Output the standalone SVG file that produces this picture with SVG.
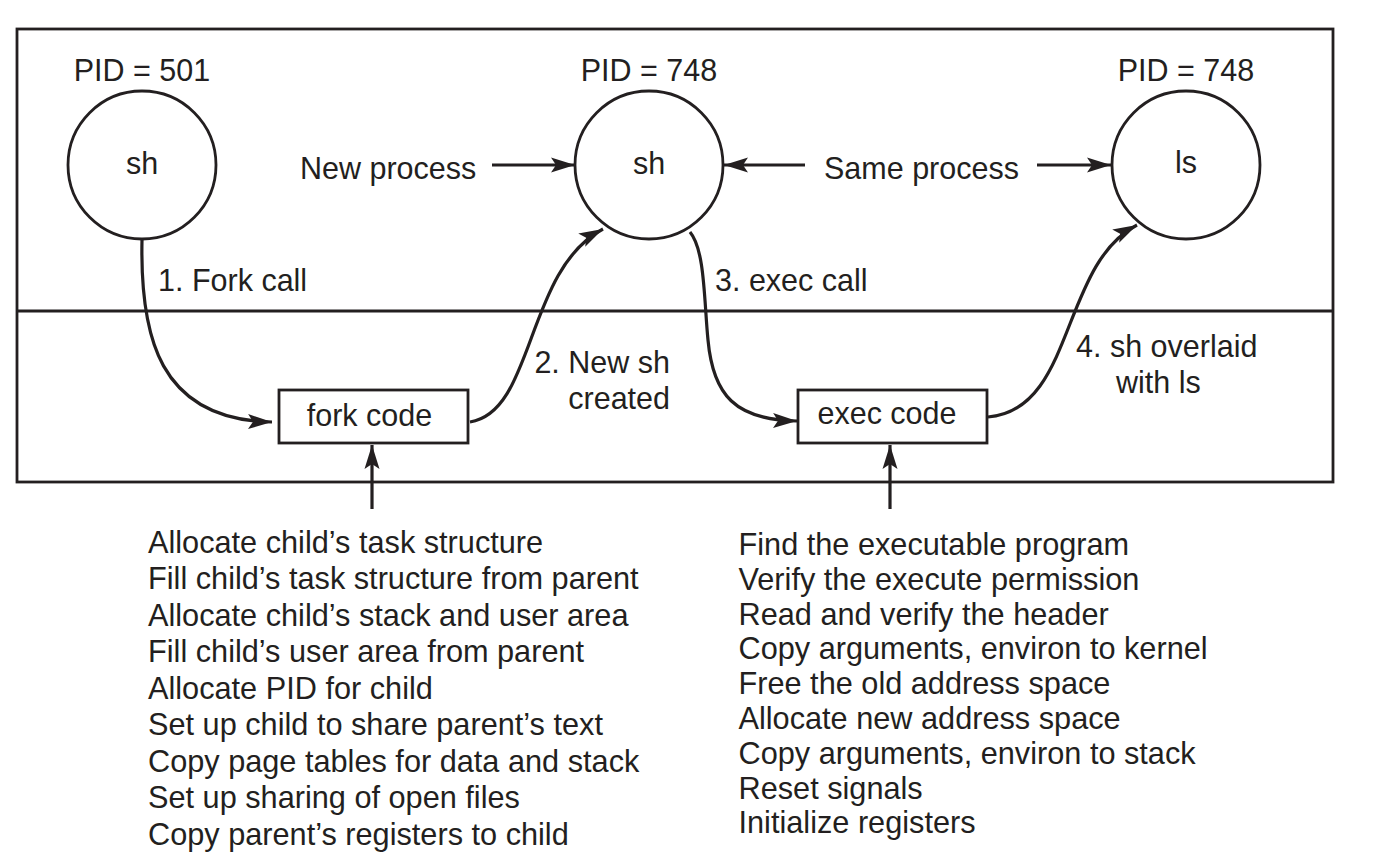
<svg xmlns="http://www.w3.org/2000/svg" width="1397" height="862" viewBox="0 0 1397 862">
<style>
  .t { font-family: "Liberation Sans", Arial, Helvetica, sans-serif; font-size: 30.5px; fill: #231f20; }
  .l { font-family: "Liberation Sans", Arial, Helvetica, sans-serif; font-size: 30.7px; fill: #231f20; }
  .m { text-anchor: middle; }
  .shape { fill: #ffffff; stroke: #231f20; stroke-width: 2.8; }
  .frame { fill: none; stroke: #231f20; stroke-width: 2.8; }
  .conn { fill: none; stroke: #231f20; stroke-width: 3.2; marker-end: url(#arrow); }
</style>
<defs>
  <marker id="arrow" markerUnits="userSpaceOnUse" markerWidth="25" markerHeight="16" refX="24" refY="8" orient="auto">
    <path d="M0,0.5 L24,8 L0,15.5 L5,8 Z" fill="#231f20"/>
  </marker>
</defs>
<rect width="1397" height="862" fill="#ffffff"/>

<g id="frame">
  <rect class="frame" x="17" y="29" width="1316" height="453"/>
  <line class="frame" x1="17" y1="311" x2="1333" y2="311"/>
</g>

<g id="connectors">
  <path class="conn" d="M142,240 C140,335 158,420 272,422"/>
  <path class="conn" d="M470,422 C535,412 525,270 603,229"/>
  <path class="conn" d="M690,232 C705,250 704,300 708,340 C713,395 735,420 797,421"/>
  <path class="conn" d="M988,417 C1075,410 1060,265 1137,225"/>
  <path class="conn" d="M492,165 L575,165"/>
  <path class="conn" d="M805,165 L724,165"/>
  <path class="conn" d="M1037,165 L1111,165"/>
  <path class="conn" d="M372,509 L372,445"/>
  <path class="conn" d="M890,509 L890,445"/>
  <text class="t" x="158" y="291">1. Fork call</text>
  <text class="t" x="670" y="372.5" text-anchor="end">2. New sh</text>
  <text class="t" x="670" y="409" text-anchor="end">created</text>
  <text class="t" x="715" y="291">3. exec call</text>
  <text class="t" x="1076" y="357">4. sh overlaid</text>
  <text class="t" x="1116" y="393">with ls</text>
  <text class="t" x="300" y="179">New process</text>
  <text class="t" x="824" y="179">Same process</text>
</g>

<g id="node-sh-501">
  <text class="t m" x="142" y="81">PID = 501</text>
  <circle class="shape" cx="142" cy="165" r="74"/>
  <text class="t m" x="142" y="174">sh</text>
</g>

<g id="node-sh-748">
  <text class="t m" x="649" y="81">PID = 748</text>
  <circle class="shape" cx="649" cy="165" r="74"/>
  <text class="t m" x="649" y="174">sh</text>
</g>

<g id="node-ls-748">
  <text class="t m" x="1186" y="81">PID = 748</text>
  <circle class="shape" cx="1186" cy="165" r="74"/>
  <text class="t m" x="1186" y="173">ls</text>
</g>

<g id="node-fork-code">
  <rect class="shape" x="279" y="390" width="189" height="53"/>
  <text class="t m" x="369.5" y="426">fork code</text>
</g>

<g id="node-exec-code">
  <rect class="shape" x="798" y="390" width="189" height="53"/>
  <text class="t m" x="887" y="424">exec code</text>
</g>

<g id="fork-steps">
  <text class="l" x="148" y="552.5">Allocate child’s task structure</text>
  <text class="l" x="148" y="589">Fill child’s task structure from parent</text>
  <text class="l" x="148" y="625.5">Allocate child’s stack and user area</text>
  <text class="l" x="148" y="662">Fill child’s user area from parent</text>
  <text class="l" x="148" y="698.5">Allocate PID for child</text>
  <text class="l" x="148" y="735">Set up child to share parent’s text</text>
  <text class="l" x="148" y="771.5">Copy page tables for data and stack</text>
  <text class="l" x="148" y="808">Set up sharing of open files</text>
  <text class="l" x="148" y="844.5">Copy parent’s registers to child</text>
</g>

<g id="exec-steps">
  <text class="l" x="738.5" y="555">Find the executable program</text>
  <text class="l" x="738.5" y="589.8">Verify the execute permission</text>
  <text class="l" x="738.5" y="624.6">Read and verify the header</text>
  <text class="l" x="738.5" y="659.4">Copy arguments, environ to kernel</text>
  <text class="l" x="738.5" y="694.2">Free the old address space</text>
  <text class="l" x="738.5" y="729">Allocate new address space</text>
  <text class="l" x="738.5" y="763.8">Copy arguments, environ to stack</text>
  <text class="l" x="738.5" y="798.6">Reset signals</text>
  <text class="l" x="738.5" y="833.4">Initialize registers</text>
</g>
</svg>
